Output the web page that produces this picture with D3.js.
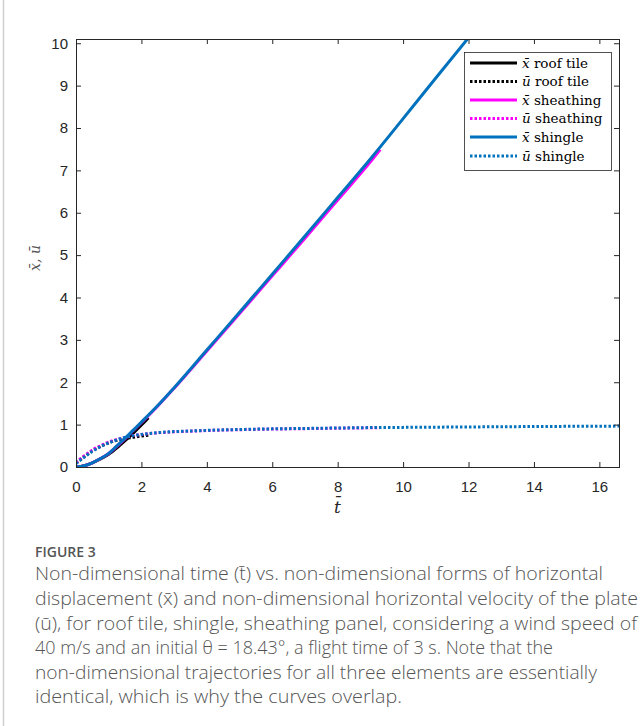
<!DOCTYPE html>
<html>
<head>
<meta charset="utf-8">
<script src="https://cdn.jsdelivr.net/npm/d3@7/dist/d3.min.js"></script>
<style>
  html, body { margin: 0; padding: 0; background: #fff; }
  svg { display: block; }
</style>
</head>
<body>
<svg id="chart" width="640" height="726"></svg>
<script>
// ---- data ----
const xTicks = [0, 2, 4, 6, 8, 10, 12, 14, 16];
const yTicks = [0, 1, 2, 3, 4, 5, 6, 7, 8, 9, 10];

const tRoofX = [0, 0.25, 0.5, 0.75, 1, 1.25, 1.5, 1.75, 2, 2.21];
const xRoof  = [0, 0.03, 0.1, 0.19, 0.3, 0.45, 0.62, 0.8, 0.99, 1.16];

const tRoofU = [0, 0.1, 0.25, 0.5, 0.75, 1, 1.25, 1.5, 1.75, 2, 2.21];
const uRoof  = [0.1, 0.16, 0.25, 0.39, 0.49, 0.57, 0.63, 0.67, 0.7, 0.73, 0.75];

const tSheathX = [0, 0.25, 0.5, 0.75, 1, 1.25, 1.5, 1.75, 2, 2.5, 3, 4, 5, 6, 7, 8, 9, 9.3];
const xSheath  = [0, 0.03, 0.1, 0.2, 0.32, 0.49, 0.67, 0.86, 1.05, 1.44, 1.86, 2.74, 3.62, 4.51, 5.4, 6.3, 7.2, 7.49];

const tSheathU = [0, 0.1, 0.25, 0.5, 0.75, 1, 1.25, 1.5, 1.75, 2, 2.5, 3, 3.5, 4, 5, 6, 7, 8, 9, 9.3];
const uSheath  = [0.1, 0.17, 0.26, 0.4, 0.5, 0.59, 0.65, 0.7, 0.74, 0.77, 0.805, 0.83, 0.845, 0.86, 0.88, 0.895, 0.905, 0.915, 0.925, 0.927];

const tShingleX = [0, 0.25, 0.5, 0.75, 1, 1.25, 1.5, 1.75, 2, 2.5, 3, 4, 5, 6, 7, 8, 9, 10, 11, 12.2];
const xShingle  = [0, 0.03, 0.1, 0.2, 0.32, 0.5, 0.68, 0.87, 1.06, 1.45, 1.87, 2.76, 3.65, 4.55, 5.45, 6.36, 7.27, 8.22, 9.18, 10.32];

const tShingleU = [0, 0.1, 0.25, 0.5, 0.75, 1, 1.25, 1.5, 1.75, 2, 2.5, 3, 3.5, 4, 5, 6, 7, 8, 9, 10, 12, 14, 16.6];
const uShingle  = [0.08, 0.14, 0.23, 0.37, 0.48, 0.57, 0.64, 0.7, 0.74, 0.77, 0.81, 0.835, 0.85, 0.865, 0.885, 0.9, 0.91, 0.92, 0.93, 0.935, 0.945, 0.955, 0.965];

const legendLabels = ["x\u0304 roof tile", "u\u0304 roof tile", "x\u0304 sheathing", "u\u0304 sheathing", "x\u0304 shingle", "u\u0304 shingle"];

const captionTitle = "FIGURE 3";
const captionLines = [
  "Non-dimensional time (t\u0304) vs. non-dimensional forms of horizontal",
  "displacement (x\u0304) and non-dimensional horizontal velocity of the plate",
  "(u\u0304), for roof tile, shingle, sheathing panel, considering a wind speed of",
  "40 m/s and an initial \u03b8 = 18.43\u00b0, a flight time of 3 s. Note that the",
  "non-dimensional trajectories for all three elements are essentially",
  "identical, which is why the curves overlap."
];

// ---- layout ----
const svg = d3.select("#chart");
const L = 76, R = 619, T = 39, B = 467;
const x = d3.scaleLinear().domain([0, 16.6]).range([L, R]);
const y = d3.scaleLinear().domain([0, 10.1]).range([B, T]);
const axisColor = "#262626";
const tickFont = "Liberation Sans, Arial, Helvetica, sans-serif";
const dots = "2.5,2";

// left border of the figure panel
svg.append("line").attr("x1", 3.5).attr("x2", 3.5).attr("y1", 0).attr("y2", 726)
  .attr("stroke", "#cfcfcf").attr("stroke-width", 1.5);

svg.append("defs").append("clipPath").attr("id", "plotclip")
  .append("rect").attr("x", L).attr("y", T).attr("width", R - L).attr("height", B - T);

const series = [
  { t: tRoofX, v: xRoof, color: "#000000", dotted: false },
  { t: tRoofU, v: uRoof, color: "#000000", dotted: true },
  { t: tSheathX, v: xSheath, color: "#ff00ff", dotted: false },
  { t: tSheathU, v: uSheath, color: "#ff00ff", dotted: true },
  { t: tShingleX, v: xShingle, color: "#0072bd", dotted: false },
  { t: tShingleU, v: uShingle, color: "#0072bd", dotted: true }
];

const line = d3.line().x(d => x(d[0])).y(d => y(d[1])).curve(d3.curveMonotoneX);
const plot = svg.append("g").attr("clip-path", "url(#plotclip)");
series.forEach(s => {
  const pts = s.t.map((t, i) => [t, s.v[i]]);
  plot.append("path").datum(pts).attr("d", line)
    .attr("fill", "none").attr("stroke", s.color)
    .attr("stroke-width", 3)
    .attr("stroke-dasharray", s.dotted ? dots : null);
});

// axes
function styleAxis(g) {
  g.select(".domain").remove();
  g.selectAll(".tick line").attr("stroke", axisColor).attr("stroke-width", 1);
  g.selectAll(".tick text").attr("fill", axisColor).style("font-family", tickFont).style("font-size", "15px");
}
svg.append("g").attr("transform", `translate(0,${B})`)
  .call(d3.axisBottom(x).tickValues(xTicks).tickSize(-5).tickPadding(14).tickFormat(d3.format("d")))
  .call(styleAxis);
svg.append("g").attr("transform", `translate(0,${T})`)
  .call(d3.axisTop(x).tickValues(xTicks).tickSize(-5).tickFormat(""))
  .call(styleAxis);
svg.append("g").attr("transform", `translate(${L},0)`)
  .call(d3.axisLeft(y).tickValues(yTicks).tickSize(-5).tickPadding(8).tickFormat(d3.format("d")))
  .call(styleAxis);
svg.append("g").attr("transform", `translate(${R},0)`)
  .call(d3.axisRight(y).tickValues(yTicks).tickSize(-5).tickFormat(""))
  .call(styleAxis);

svg.append("rect").attr("x", L).attr("y", T).attr("width", R - L).attr("height", B - T)
  .attr("fill", "none").attr("stroke", axisColor).attr("stroke-width", 1)
  .attr("shape-rendering", "crispEdges");

// axis labels
svg.append("text").attr("x", (L + R) / 2 - 10).attr("y", 513)
  .attr("text-anchor", "middle").attr("fill", axisColor)
  .style("font-family", "DejaVu Serif, Liberation Serif, serif").style("font-style", "italic").style("font-size", "17px")
  .text("t\u0304");
svg.append("text").attr("transform", `translate(40,${(T + B) / 2 + 5}) rotate(-90)`)
  .attr("text-anchor", "middle").attr("fill", "#555")
  .style("font-family", "DejaVu Serif, Liberation Serif, serif").style("font-style", "italic").style("font-size", "14px")
  .text("x\u0304, u\u0304");

// legend
const lg = svg.append("g");
lg.append("rect").attr("x", 464.5).attr("y", 52.5).attr("width", 147).attr("height", 118)
  .attr("fill", "#fff").attr("stroke", axisColor).attr("stroke-width", 0.8);
const rowY = [63, 81.5, 100, 118.5, 137, 156];
series.forEach((s, i) => {
  lg.append("line").attr("x1", 470).attr("x2", 517).attr("y1", rowY[i]).attr("y2", rowY[i])
    .attr("stroke", s.color).attr("stroke-width", 3)
    .attr("stroke-dasharray", s.dotted ? dots : null);
  const tx = lg.append("text").attr("x", 522).attr("y", rowY[i] + 4.5).attr("fill", "#000")
    .style("font-family", "DejaVu Serif, Liberation Serif, serif").style("font-size", "13.5px");
  const lbl = legendLabels[i];
  tx.append("tspan").style("font-style", "italic").text(lbl.slice(0, 2));
  tx.append("tspan").text(lbl.slice(2));
});

// caption
const capFont = "Open Sans, Noto Sans, sans-serif";
svg.append("text").attr("x", 35).attr("y", 557).attr("fill", "#555")
  .style("font-family", capFont).style("font-size", "14px").style("font-weight", 600)
  .text(captionTitle);
const lineEnds = [603, 638, 637, 553, 597, 402];
const baseY = [580, 605, 629.5, 654, 678.5, 703];
captionLines.forEach((ln, i) => {
  svg.append("text").attr("x", 35).attr("y", baseY[i]).attr("fill", "#555")
    .attr("textLength", lineEnds[i] - 35).attr("lengthAdjust", "spacingAndGlyphs")
    .style("font-family", capFont).style("font-size", "17.5px").style("font-weight", 300)
    .text(ln);
});
</script>
</body>
</html>
